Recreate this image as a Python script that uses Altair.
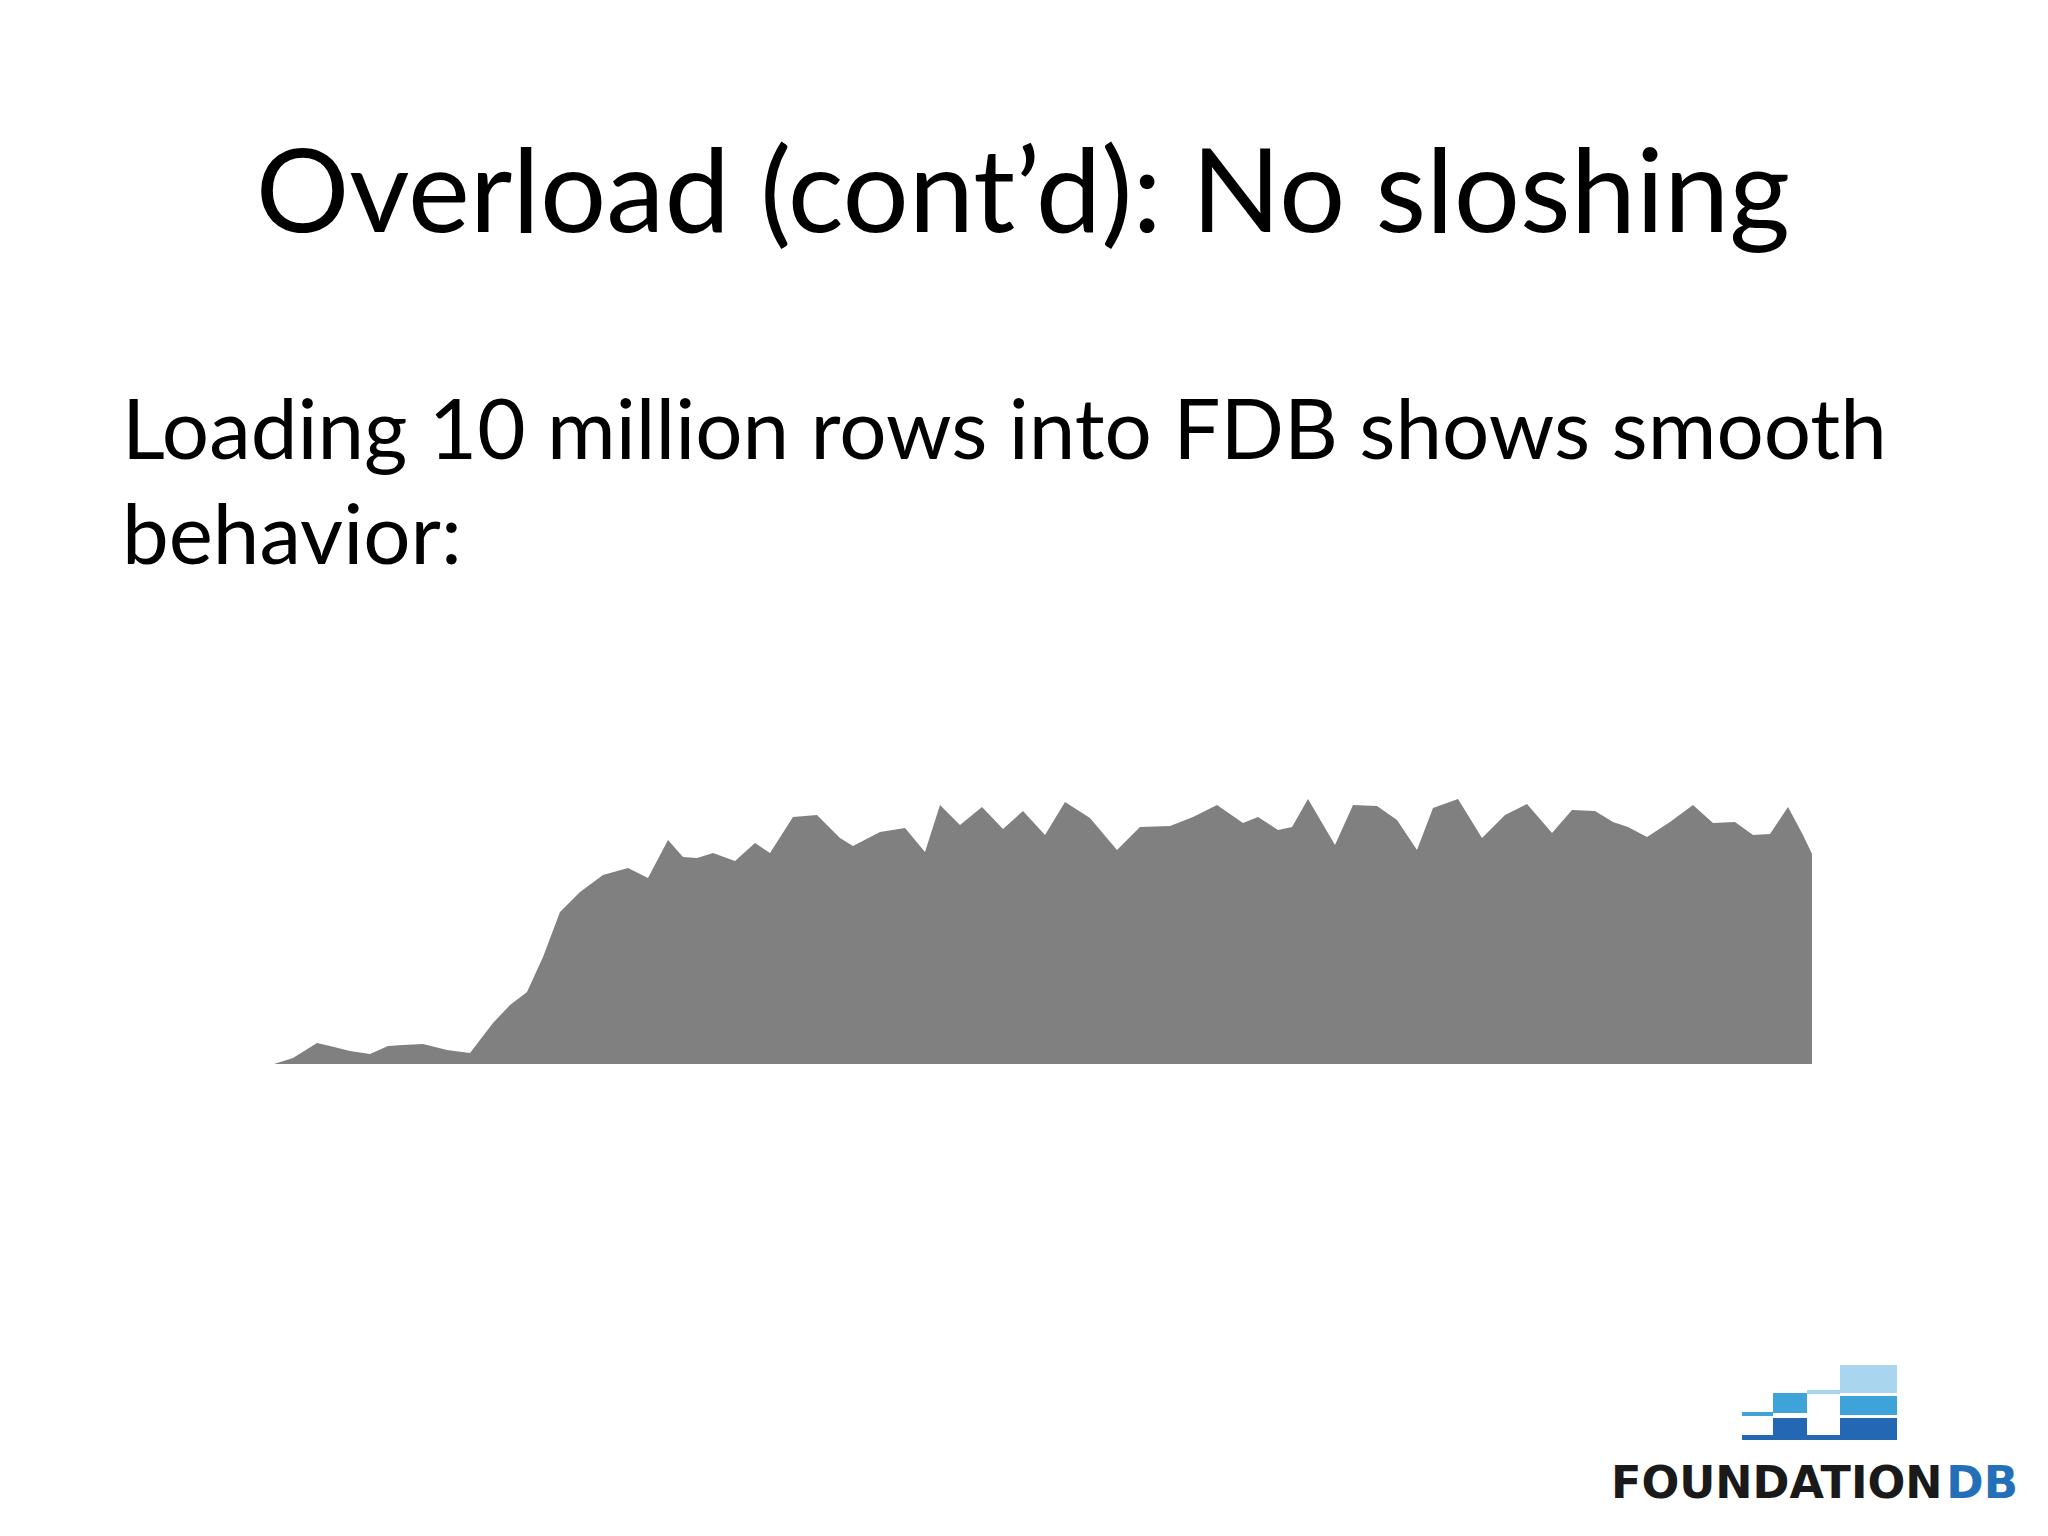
import altair as alt
import pandas as pd

# Throughput while loading 10 million rows (arbitrary time / rate units)
t = [0, 19, 43, 56, 76, 96, 114, 129, 149, 173, 196, 219, 236, 253, 269, 286, 306, 329, 354, 374,
     394, 409, 423, 439, 461, 481, 496, 519, 543, 566, 579, 606, 631, 651, 666, 686, 708, 729, 749, 771,
     791, 816, 843, 866, 896, 919, 943, 969, 984, 1004, 1018, 1034, 1061, 1079, 1103, 1123, 1143, 1159, 1184, 1208,
     1231, 1253, 1278, 1298, 1321, 1339, 1354, 1373, 1396, 1419, 1439, 1461, 1479, 1496, 1514, 1529, 1538]
rate = [0, 6, 21, 18, 13, 10, 18, 19, 20, 14, 11, 41, 59, 72, 107, 152, 172, 189, 196, 186,
        224, 207, 206, 211, 203, 221, 211, 247, 249, 226, 218, 232, 236, 212, 259, 239, 257, 235, 253, 229,
        262, 246, 214, 237, 238, 247, 259, 241, 247, 234, 237, 265, 219, 259, 258, 244, 214, 256, 265, 226,
        249, 260, 231, 254, 253, 242, 237, 227, 242, 259, 241, 242, 229, 230, 257, 229, 210]
assert len(t) == len(rate)

title_text = "Overload (cont\u2019d): No sloshing"
body_lines = ["Loading 10 million rows into FDB shows smooth", "behavior:"]

W, H = 2032, 1520
df = pd.DataFrame({"t": t, "rate": rate})

area = alt.Chart(df).mark_area(color="#808080", opacity=1, interpolate="linear").encode(
    x=alt.X("t:Q", axis=None, scale=alt.Scale(domain=[-266, 1766], nice=False, zero=False)),
    y=alt.Y("rate:Q", axis=None, scale=alt.Scale(domain=[-464, 1056], nice=False, zero=False)),
    y2=alt.datum(0),
)

one = alt.Data(values=[{}])

def txt(s, x, y, size, font="Lato", color="#000000", align="left", weight="normal"):
    return alt.Chart(one).mark_text(
        text=s, font=font, fontSize=size, color=color, align=align, baseline="alphabetic",
        fontWeight=weight,
    ).encode(x=alt.value(x), y=alt.value(y))

title = txt(title_text, 1015, 224, 117, align="center")
body1 = txt(body_lines[0], 114, 451, 83.5)
body2 = txt(body_lines[1], 114, 556, 83.5)

def rect(x1, x2, y1, y2, color):
    return alt.Chart(one).mark_rect(color=color).encode(
        x=alt.value(x1), x2=alt.value(x2), y=alt.value(y1), y2=alt.value(y2)
    )

logo = [
    rect(1832, 1889, 1357, 1385, "#a9d5ee"),
    rect(1799, 1832, 1382, 1386, "#a9d5ee"),
    rect(1765, 1799, 1385, 1405, "#3ea3d9"),
    rect(1832, 1889, 1388, 1407, "#3ea3d9"),
    rect(1734, 1765, 1404, 1408, "#3ea3d9"),
    rect(1765, 1799, 1410, 1430, "#2467b3"),
    rect(1832, 1889, 1410, 1432, "#2467b3"),
    rect(1734, 1889, 1427, 1432, "#2467b3"),
    txt("FOUNDATION", 1603, 1490, 44.5, font="DejaVu Sans", color="#1a1a1a", weight="bold"),
    txt("DB", 2010, 1490, 45, font="DejaVu Sans", color="#2470b8", align="right", weight="bold"),
]

chart = alt.layer(area, title, body1, body2, *logo).properties(
    width=W, height=H, padding=0, autosize="none", background="white"
).configure_view(stroke=None)

chart.save("out.html", embed_options={"renderer": "svg", "actions": False})
